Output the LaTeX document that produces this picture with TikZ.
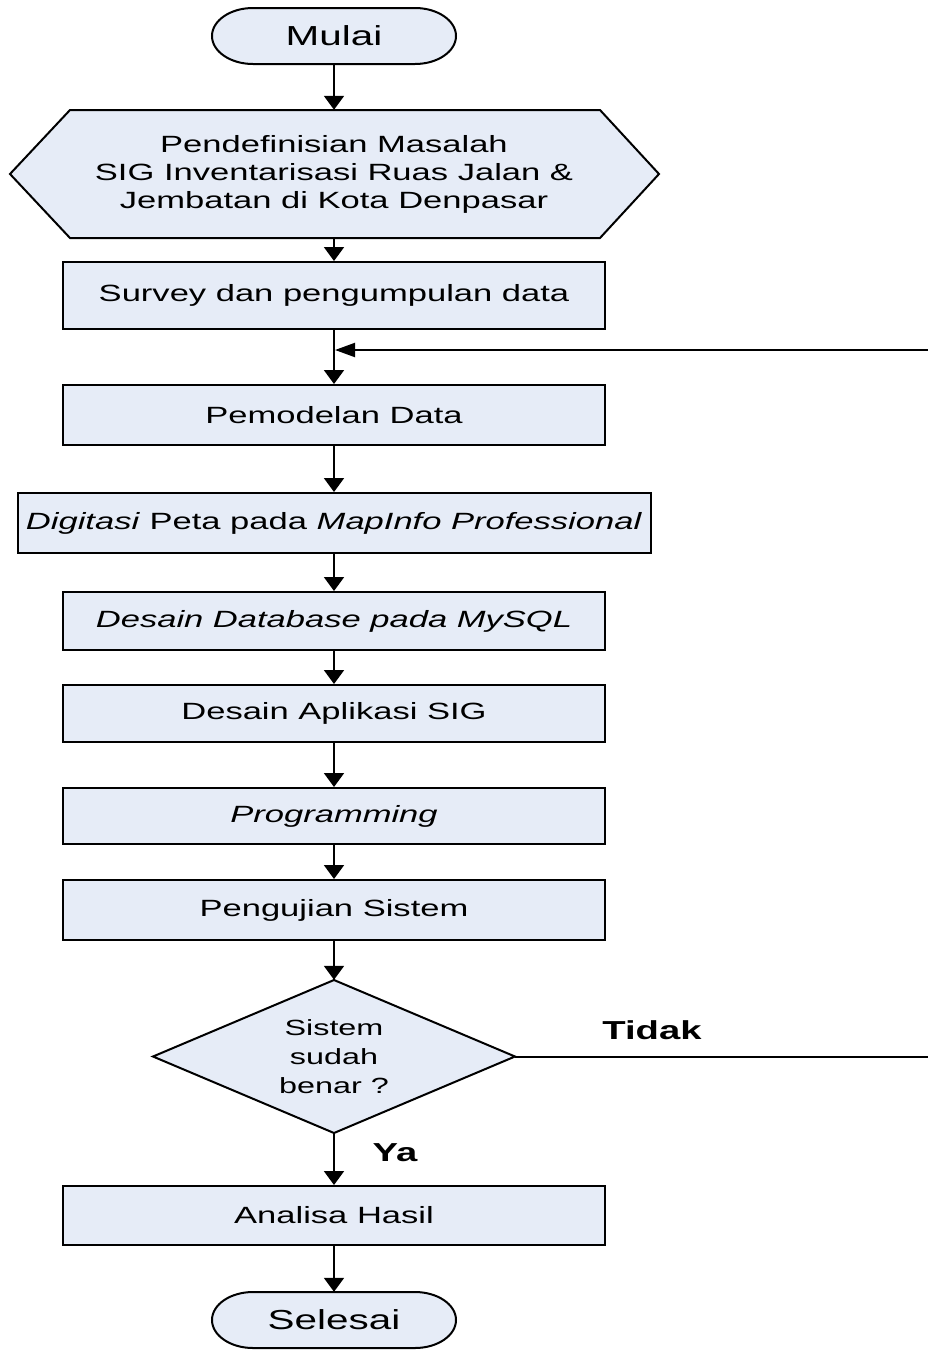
\documentclass[tikz,border=0pt]{standalone}
\usepackage{fontspec}
\setmainfont{Liberation Sans}[FakeStretch=1.47]
\usetikzlibrary{arrows.meta}
\definecolor{boxfill}{RGB}{230,236,247}
\begin{document}
\begin{tikzpicture}[x=1pt,y=-1pt,
  box/.style={draw=black, line width=2pt, fill=boxfill, inner sep=0pt,
    minimum width=542pt, align=center, font=\fontsize{23.5}{28}\selectfont},
  holder/.style={inner sep=0pt, align=center},
  shapeline/.style={draw=black, line width=2pt, fill=boxfill, line join=miter},
  flow/.style={line width=2pt, -{Triangle[width=20pt,length=14pt]}},
  backflow/.style={line width=2pt, -{Triangle[width=14pt,length=20pt]}},
  lbl/.style={inner sep=0pt, font=\fontsize{26}{30}\selectfont\bfseries}
]
\useasboundingbox (0,0) rectangle (928,1352);
\clip (0,0) rectangle (928,1352);

% start terminator
\draw[shapeline] (253,8) -- (415,8) arc[start angle=-90,end angle=90,x radius=41,y radius=28]
  -- (253,64) arc[start angle=90,end angle=270,x radius=41,y radius=28] -- cycle;
\node[holder, minimum width=244pt, minimum height=56pt, font=\fontsize{27.5}{30}\selectfont] (start) at (334,36) {Mulai};

% hexagon
\draw[shapeline] (10,174) -- (70,110) -- (600,110) -- (659,174) -- (600,238) -- (70,238) -- cycle;
\node[holder, minimum width=649pt, minimum height=128pt, font=\fontsize{23.5}{28}\selectfont] (hex) at (334,174)
  {Pendefinisian Masalah\\SIG Inventarisasi Ruas Jalan \&\\Jembatan di Kota Denpasar};

% process boxes
\node[box, minimum height=67pt] (survey) at (334,295.5) {Survey dan pengumpulan data};
\node[box, minimum height=60pt] (model) at (334,415) {Pemodelan Data};
\node[box, minimum width=633pt, minimum height=60pt] (digit) at (334,523) {\textit{Digitasi} Peta pada \textit{MapInfo Professional}};
\node[box, minimum height=58pt] (dbase) at (334,621) {\textit{Desain Database pada MySQL}};
\node[box, minimum height=57pt] (app) at (334,713.5) {Desain Aplikasi SIG};
\node[box, minimum height=56pt] (prog) at (334,816) {\textit{Programming}};
\node[box, minimum height=60pt] (uji) at (334,910) {Pengujian Sistem};

% decision
\draw[shapeline] (334,980) -- (515,1056.5) -- (334,1133) -- (153,1056.5) -- cycle;
\node[holder, minimum width=362pt, minimum height=153pt, font=\fontsize{22}{29}\selectfont] (dec) at (334,1056.5)
  {Sistem\\sudah\\benar ?};

\node[box, minimum height=59pt] (hasil) at (334,1215.5) {Analisa Hasil};

% end terminator
\draw[shapeline] (253,1292) -- (415,1292) arc[start angle=-90,end angle=90,x radius=41,y radius=28]
  -- (253,1348) arc[start angle=90,end angle=270,x radius=41,y radius=28] -- cycle;
\node[holder, minimum width=244pt, minimum height=56pt, font=\fontsize{27.5}{30}\selectfont] (stop) at (334,1320) {Selesai};

% connectors
\draw[flow] (start.south) -- (hex.north);
\draw[flow] (hex.south) -- (survey.north);
\draw[flow] (survey.south) -- (model.north);
\draw[flow] (model.south) -- (digit.north);
\draw[flow] (digit.south) -- (dbase.north);
\draw[flow] (dbase.south) -- (app.north);
\draw[flow] (app.south) -- (prog.north);
\draw[flow] (prog.south) -- (uji.north);
\draw[flow] (uji.south) -- (dec.north);
\draw[flow] (dec.south) -- (hasil.north);
\draw[flow] (hasil.south) -- (stop.north);

% feedback loop (its vertical run lies beyond the right edge)
\coordinate (loopR) at (940,1056.5);
\coordinate (join) at (335,350);
\draw[backflow] (dec.east) -- (loopR) |- (join);

% labels
\node[lbl] (tidak) at (652,1030) {Tidak};
\node[lbl] (ya) at (395,1153) {Ya};
\end{tikzpicture}
\end{document}
